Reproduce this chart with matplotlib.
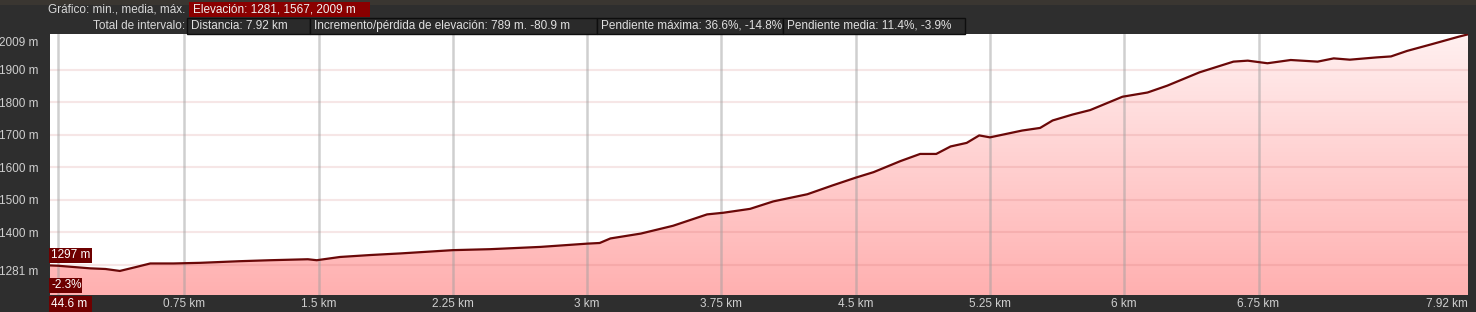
import numpy as np
import matplotlib
matplotlib.use("Agg")
import matplotlib.pyplot as plt
from matplotlib.patches import Rectangle, Polygon
from matplotlib.transforms import ScaledTranslation
from matplotlib.colors import LinearSegmentedColormap

plt.rcParams['font.family'] = ['Liberation Sans', 'DejaVu Sans']

# ---------------- data ----------------
dist_km = [0.0, 0.045, 0.225, 0.31, 0.39, 0.48, 0.56, 0.69, 0.84, 1.06, 1.23, 1.44,
           1.49, 1.62, 1.79, 1.96, 2.25, 2.46, 2.74, 3.00, 3.07, 3.13, 3.30, 3.48,
           3.67, 3.76, 3.91, 4.04, 4.23, 4.37, 4.50, 4.60, 4.75, 4.86, 4.95, 5.03,
           5.12, 5.19, 5.25, 5.43, 5.53, 5.60, 5.71, 5.81, 5.99, 6.13, 6.24, 6.42,
           6.61, 6.69, 6.80, 6.93, 7.08, 7.17, 7.26, 7.41, 7.49, 7.58, 7.72, 7.87, 7.92]
elev_m = [1298, 1297, 1289, 1287, 1281, 1293, 1304, 1304, 1306, 1311, 1314, 1317,
          1314, 1324, 1330, 1335, 1345, 1348, 1355, 1365, 1367, 1381, 1396, 1420,
          1455, 1460, 1472, 1495, 1517, 1544, 1568, 1585, 1619, 1641, 1641, 1664,
          1675, 1698, 1692, 1713, 1721, 1744, 1762, 1776, 1817, 1830, 1851, 1892,
          1925, 1928, 1920, 1930, 1925, 1935, 1931, 1938, 1941, 1958, 1979, 2002, 2009]

x_ticks = [0.75, 1.5, 2.25, 3.0, 3.75, 4.5, 5.25, 6.0, 6.75, 7.92]
x_tick_labels = ["0.75 km", "1.5 km", "2.25 km", "3 km", "3.75 km", "4.5 km",
                 "5.25 km", "6 km", "6.75 km", "7.92 km"]
y_ticks = [1281, 1400, 1500, 1600, 1700, 1800, 1900, 2009]
y_tick_labels = ["1281 m", "1400 m", "1500 m", "1600 m", "1700 m", "1800 m", "1900 m", "2009 m"]
y_grid = [1300, 1400, 1500, 1600, 1700, 1800, 1900]

cursor_km = 0.0446
cursor_elev = "1297 m"
cursor_slope = "-2.3%"
cursor_dist = "44.6 m"

header_row1_label = "Gráfico: min., media, máx."
header_row1_value = "Elevación: 1281, 1567, 2009 m"
header_row2_label = "Total de intervalo:"
header_row2_values = ["Distancia: 7.92 km",
                      "Incremento/pérdida de elevación: 789 m. -80.9 m",
                      "Pendiente máxima: 36.6%, -14.8%",
                      "Pendiente media: 11.4%, -3.9%"]

# ---------------- figure ----------------
W, H = 1476, 312
BG = "#2e2e2e"
FS = 8.5
fig = plt.figure(figsize=(W / 100, H / 100), dpi=100, facecolor=BG)

def fx(px):
    return px / W

def fy(py):
    return 1 - py / H

ax_l, ax_r, ax_t, ax_b = 50, 1468, 34, 295
ax = fig.add_axes([fx(ax_l), fy(ax_b), fx(ax_r - ax_l), (ax_b - ax_t) / H])
ax.set_facecolor("white")
ymin, ymax = 1207, 2010
ax.set_xlim(0, 7.92)
ax.set_ylim(ymin, ymax)

# gradient fill under profile
grad = np.linspace(0, 1, 256).reshape(-1, 1)
cmap = LinearSegmentedColormap.from_list("g", ["#ffb0b0", "#fff0f0"])
im = ax.imshow(grad, extent=[0, 7.92, ymin, ymax], origin="lower", aspect="auto",
               cmap=cmap, zorder=1)
poly_pts = [(0, ymin)] + list(zip(dist_km, elev_m)) + [(7.92, ymin)]
clip = Polygon(poly_pts, closed=True, transform=ax.transData, facecolor="none", edgecolor="none")
ax.add_patch(clip)
im.set_clip_path(clip)

# grid
for g in y_grid:
    ax.axhline(g, color=(0.78, 0.35, 0.35), alpha=0.15, lw=1.5, zorder=2)
for t in x_ticks[:-1]:
    ax.axvline(t, color="#a0a0a0", alpha=0.5, lw=1.8, zorder=2)
ax.axvline(cursor_km, color="#a0a0a0", alpha=0.5, lw=1.8, zorder=2)

ax.plot(dist_km, elev_m, color="#6a0808", lw=1.6, zorder=3, solid_joinstyle="round")

for s in ax.spines.values():
    s.set_visible(False)

ax.set_xticks(x_ticks)
ax.set_xticklabels(x_tick_labels)
ax.set_yticks(y_ticks)
ax.set_yticklabels(y_tick_labels)
ax.tick_params(axis="both", length=0, colors="#cfcfcf", labelsize=FS)
ax.tick_params(axis="x", pad=2)
ax.tick_params(axis="y", pad=8.5)
xl = ax.get_xticklabels()
xl[-1].set_ha("right")
yl = ax.get_yticklabels()
yl[-1].set_transform(yl[-1].get_transform() + ScaledTranslation(0, -5 / 72, fig.dpi_scale_trans))

# cursor labels
def box_label(x0, x1, y0, y1, text, color="#6e0000"):
    fig.patches.append(Rectangle((fx(x0), fy(y1)), fx(x1 - x0), (y1 - y0) / H,
                                 transform=fig.transFigure, facecolor=color,
                                 edgecolor="none", zorder=5))
    fig.text(fx(x0 + 2), fy((y0 + y1) / 2), text, color="white", fontsize=FS,
             va="center", ha="left", zorder=6)

box_label(49, 92, 248, 263, cursor_elev)
box_label(49, 82, 278, 293, cursor_slope)
box_label(49, 92, 296, 312, cursor_dist)

# header
fig.patches.append(Rectangle((0, fy(5)), 1, 5 / H, transform=fig.transFigure,
                             facecolor="#3a3631", edgecolor="none"))
fig.text(fx(185), fy(9.5), header_row1_label, color="#d8d8d8", fontsize=FS,
         ha="right", va="center")
fig.patches.append(Rectangle((fx(189), fy(17)), fx(181), 15 / H, transform=fig.transFigure,
                             facecolor="#8a0000", edgecolor="none"))
fig.text(fx(193), fy(9.5), header_row1_value, color="#f0f0f0", fontsize=FS,
         ha="left", va="center")

fig.text(fx(185), fy(26), header_row2_label, color="#d8d8d8", fontsize=FS,
         ha="right", va="center")
edges = [187, 310, 597, 783, 965]
for i, txt in enumerate(header_row2_values):
    x0, x1 = edges[i], edges[i + 1]
    fig.patches.append(Rectangle((fx(x0), fy(34)), fx(x1 - x0), 16 / H,
                                 transform=fig.transFigure, facecolor="#2a2a2a",
                                 edgecolor="#0e0e0e", lw=1))
    fig.text(fx(x0 + 4), fy(26), txt, color="#e0e0e0", fontsize=FS,
             ha="left", va="center")

fig.savefig("out.png", dpi=100, facecolor=BG)
